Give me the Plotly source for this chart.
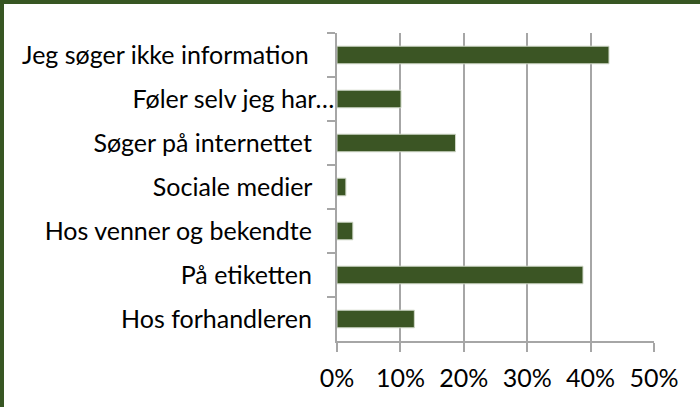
import plotly.graph_objects as go

categories = [
    "Jeg søger ikke information",
    "Føler selv jeg har…",
    "Søger på internettet",
    "Sociale medier",
    "Hos venner og bekendte",
    "På etiketten",
    "Hos forhandleren",
]
values = [0.429, 0.101, 0.187, 0.014, 0.025, 0.388, 0.122]
pad = ["\u00a0" * 4, "", "\u00a0" * 3 + "\u2009", "\u00a0" * 3 + "\u2009",
       "\u00a0" * 3 + "\u2009", "\u00a0" * 3 + "\u2009", "\u00a0" * 3 + "\u2009"]
labels = [c + p for c, p in zip(categories, pad)]

x_ticks = [0, 0.1, 0.2, 0.3, 0.4, 0.5]
x_ticklabels = ["0%", "10%", "20%", "30%", "40%", "50%"]

W, H = 700, 407
ml, mr, mt, mb = 337, 46, 33, 66
pw, ph = W - ml - mr, H - mt - mb

font = dict(family="Lato, Calibri, sans-serif", size=25, color="#000000")
green_dark = "#375623"
bar_col = "#3B5524"
grid_col = "#A6A6A6"

fig = go.Figure(go.Bar(
    y=labels, x=values, orientation="h",
    marker=dict(color=bar_col, line=dict(color="#D0D8C8", width=1)),
    width=0.4,
))

fig.update_layout(
    width=W, height=H,
    margin=dict(l=ml, r=mr, t=mt, b=mb, autoexpand=False),
    paper_bgcolor="white", plot_bgcolor="white",
    showlegend=False,
    font=font,
    xaxis=dict(
        range=[0, 0.5], tickvals=x_ticks, ticktext=x_ticklabels,
        showgrid=True, gridcolor=grid_col, gridwidth=1.5,
        showline=True, linecolor=grid_col, linewidth=1.5,
        ticks="outside", ticklen=9, tickcolor=grid_col, tickwidth=1.5,
        ticklabelstandoff=5, zeroline=False, fixedrange=True,
    ),
    yaxis=dict(
        autorange="reversed", type="category",
        showline=True, linecolor=grid_col, linewidth=1.5,
        ticks="outside", ticklen=8, tickcolor=grid_col, tickwidth=1.5,
        tickson="boundaries", showgrid=False,
        ticklabelstandoff=-4, fixedrange=True,
    ),
    shapes=[
        dict(type="rect", xref="paper", yref="paper",
             x0=-ml / pw, x1=(W - ml) / pw, y0=1 + (mt - 4) / ph, y1=1 + mt / ph,
             fillcolor=green_dark, line=dict(width=0), layer="above"),
        dict(type="rect", xref="paper", yref="paper",
             x0=-ml / pw, x1=(4 - ml) / pw, y0=-mb / ph, y1=1 + mt / ph,
             fillcolor=green_dark, line=dict(width=0), layer="above"),
    ],
)

fig.write_html("out.html", config={"displayModeBar": False},
               post_script="document.body.style.margin='0';")
